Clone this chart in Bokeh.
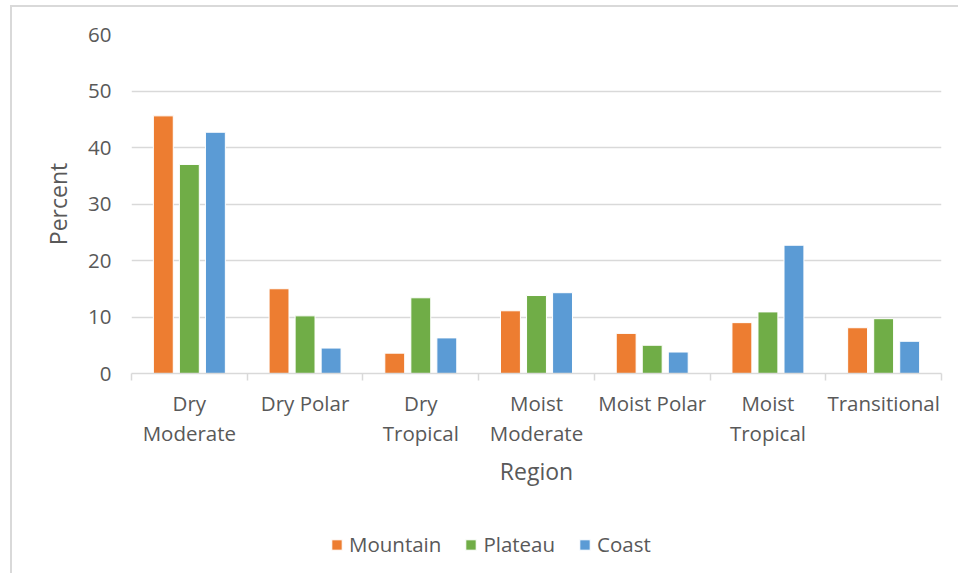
from bokeh.plotting import figure
from bokeh.layouts import column
from bokeh.models import ColumnDataSource, Range1d, FixedTicker, Legend, LegendItem
from bokeh.transform import dodge
from bokeh.embed import file_html
from bokeh.resources import INLINE

regions = ["Dry\nModerate", "Dry Polar", "Dry\nTropical", "Moist\nModerate",
           "Moist Polar", "Moist\nTropical", "Transitional"]
mountain = [45.6, 15.0, 3.6, 11.1, 7.1, 9.0, 8.1]
plateau = [37.0, 10.2, 13.4, 13.8, 5.0, 10.9, 9.7]
coast = [42.7, 4.5, 6.3, 14.3, 3.8, 22.7, 5.7]
series = ["Mountain", "Plateau", "Coast"]
colors = ["#ED7D31", "#70AD47", "#5B9BD5"]
y_ticks = [0, 10, 20, 30, 40, 50, 60]

FONT = "Open Sans"
TXT = "#595959"
GRID = "#d9d9d9"

centers = [i + 0.5 for i in range(len(regions))]
bounds = list(range(len(regions) + 1))
src = ColumnDataSource(dict(x=centers, Mountain=mountain, Plateau=plateau, Coast=coast))

p = figure(width=946, height=500, x_range=Range1d(0, len(regions)), y_range=Range1d(y_ticks[0], y_ticks[-1]),
           output_backend="svg", toolbar_location=None,
           min_border_left=119, min_border_top=27, min_border_right=17, min_border_bottom=134)
p.outline_line_color = None
p.background_fill_color = "white"
p.border_fill_color = "white"

offsets = [-0.225, 0.0, 0.225]
for name, col, off in zip(series, colors, offsets):
    p.vbar(x=dodge("x", off), top=name, width=0.172, source=src,
           fill_color=col, line_color="white", line_width=1)

# x axis
xa = p.xaxis[0]
xa.ticker = FixedTicker(ticks=centers, minor_ticks=bounds)
xa.major_label_overrides = {c: lab for c, lab in zip(centers, regions)}
xa.axis_line_color = GRID
xa.axis_line_width = 1.5
xa.major_tick_line_color = None
xa.major_tick_out = 0
xa.major_tick_in = 0
xa.minor_tick_line_color = GRID
xa.minor_tick_line_width = 1.5
xa.minor_tick_out = 7
xa.minor_tick_in = 0
xa.major_label_standoff = 8
xa.major_label_text_font = FONT
xa.major_label_text_font_size = "20.5px"
xa.major_label_text_color = TXT
xa.major_label_text_line_height = 1.1
xa.axis_label = "Region"
xa.axis_label_text_font = FONT
xa.axis_label_text_font_size = "23px"
xa.axis_label_text_font_style = "normal"
xa.axis_label_text_color = TXT
xa.axis_label_standoff = 5

# y axis
ya = p.yaxis[0]
ya.ticker = FixedTicker(ticks=y_ticks)
ya.axis_line_color = None
ya.major_tick_line_color = None
ya.minor_tick_line_color = None
ya.major_tick_out = 0
ya.major_tick_in = 0
ya.major_label_standoff = 20
ya.major_label_text_font = FONT
ya.major_label_text_font_size = "20.5px"
ya.major_label_text_color = TXT
ya.axis_label = "Percent"
ya.axis_label_text_font = FONT
ya.axis_label_text_font_size = "23px"
ya.axis_label_text_font_style = "normal"
ya.axis_label_text_color = TXT
ya.axis_label_standoff = 11

p.xgrid.grid_line_color = None
p.ygrid.ticker = FixedTicker(ticks=y_ticks)
p.ygrid.grid_line_color = GRID
p.ygrid.grid_line_width = 1.5

# legend strip below the chart (legend-only renderers, hidden)
q = figure(width=946, height=66, output_backend="svg", toolbar_location=None,
           x_axis_location=None, y_axis_location=None,
           min_border_left=0, min_border_right=0, min_border_top=0, min_border_bottom=0)
q.grid.visible = False
q.outline_line_color = None
q.border_fill_color = "white"
q.background_fill_color = "white"
leg_r = [q.vbar(x="x", top=name, width=0.172, source=src, fill_color=c,
                line_color="white", line_width=1, visible=False)
         for name, c in zip(series, colors)]
legend = Legend(items=[LegendItem(label=s, renderers=[r]) for s, r in zip(series, leg_r)],
                orientation="horizontal", location=(199, 15), padding=0, margin=0,
                spacing=23, glyph_width=13, glyph_height=13, label_standoff=6,
                label_text_font=FONT, label_text_font_size="20.5px", label_text_color=TXT,
                border_line_color=None, background_fill_alpha=0)
q.add_layout(legend, "center")

layout = column(p, q, spacing=0)
layout.styles = {"margin-left": "10px", "margin-top": "5px",
                 "border-left": "2px solid #d9d9d9", "border-top": "2px solid #d9d9d9"}

open("out.html", "w").write(file_html(layout, INLINE))
